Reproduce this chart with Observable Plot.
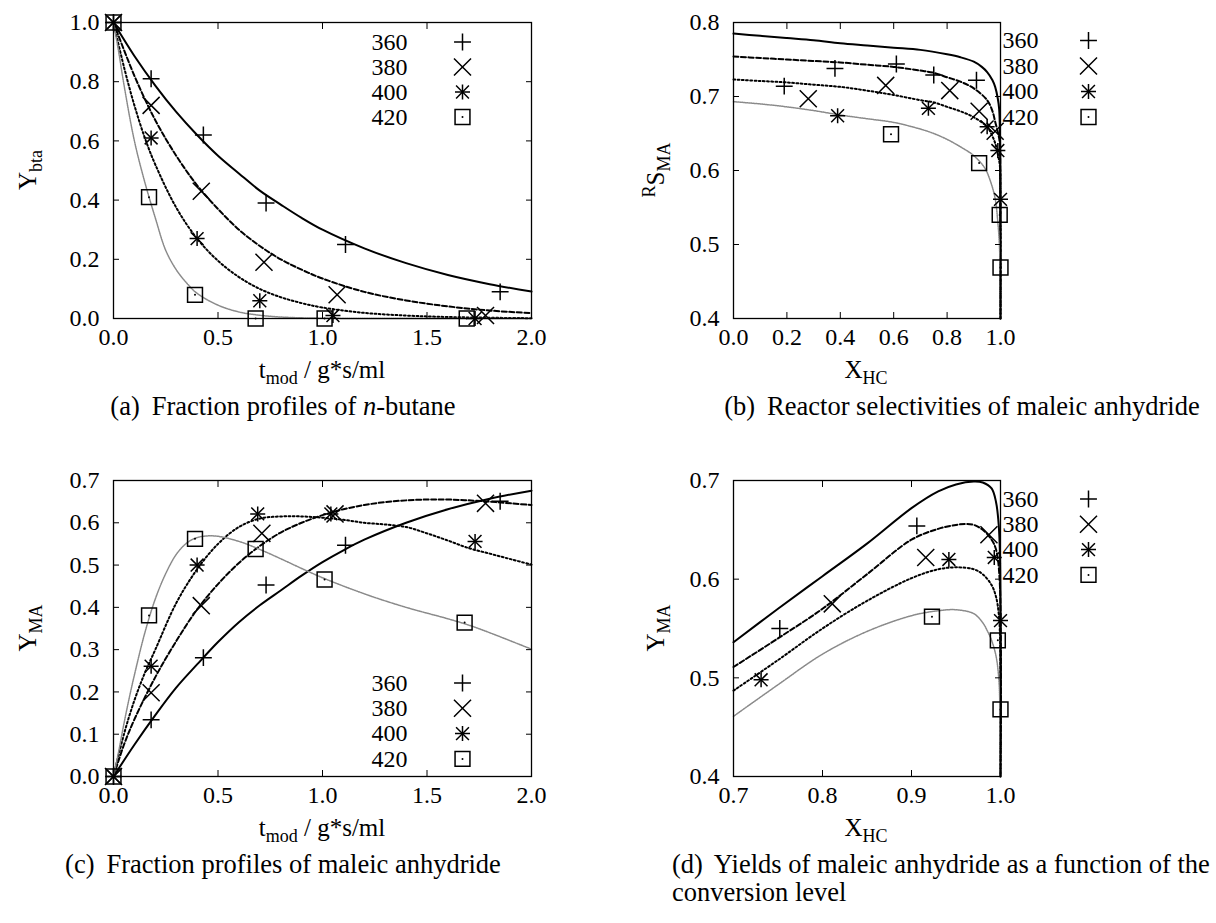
<!DOCTYPE html>
<html><head><meta charset="utf-8">
<script src="https://cdn.jsdelivr.net/npm/d3@7"></script>
<script src="https://cdn.jsdelivr.net/npm/@observablehq/plot@0.6"></script>
<style>
body{margin:0;background:#fff;}
#root{position:relative;width:1216px;height:923px;overflow:hidden;font-family:"Liberation Serif",Tinos,"Times New Roman",Times,"DejaVu Serif",serif;color:#000;}
.panel{position:absolute;}
.lbl{position:absolute;font-size:25px;white-space:nowrap;line-height:1;transform:translate(-50%,-50%);}
.lbl.rot{transform:translate(-50%,-50%) rotate(-90deg);}
.lbl sub{font-size:18px;vertical-align:-6px;line-height:0;}
.lbl sup{font-size:18px;vertical-align:9px;line-height:0;}
.cap{position:absolute;font-size:26.5px;white-space:nowrap;line-height:1;}
</style></head><body><div id="root"></div>
<script>
// ---------- data ----------
const temps = ["360", "380", "400", "420"];

// (a) n-butane fraction Y_bta vs t_mod
const a_pts_360 = [[0,1.0],[0.18,0.81],[0.43,0.62],[0.73,0.39],[1.11,0.25],[1.85,0.09]];
const a_pts_380 = [[0,1.0],[0.18,0.72],[0.42,0.43],[0.72,0.19],[1.07,0.08],[1.78,0.01]];
const a_pts_400 = [[0,1.0],[0.18,0.61],[0.40,0.27],[0.70,0.06],[1.05,0.01],[1.73,0.0]];
const a_pts_420 = [[0,1.0],[0.17,0.41],[0.39,0.08],[0.68,0.0],[1.01,0.0],[1.69,0.0]];
const a_fit_360 = [[0,1],[0.1,0.887],[0.2,0.787],[0.3,0.698],[0.4,0.62],[0.5,0.55],[0.6,0.49],[0.7,0.432],[0.8,0.385],[0.9,0.34],[1.0,0.30],[1.2,0.237],[1.4,0.187],[1.6,0.147],[1.8,0.116],[2.0,0.091]];
const a_fit_380 = [[0,1],[0.1,0.82],[0.2,0.67],[0.3,0.55],[0.4,0.45],[0.5,0.37],[0.6,0.30],[0.7,0.245],[0.8,0.20],[0.9,0.165],[1.0,0.135],[1.2,0.09],[1.4,0.061],[1.6,0.041],[1.8,0.027],[2.0,0.018]];
const a_fit_400 = [[0,1],[0.05,0.85],[0.1,0.72],[0.15,0.61],[0.2,0.52],[0.3,0.375],[0.4,0.27],[0.5,0.195],[0.6,0.14],[0.7,0.10],[0.8,0.072],[0.9,0.052],[1.0,0.037],[1.2,0.019],[1.4,0.01],[1.6,0.005],[2.0,0.001]];
const a_fit_420 = [[0,1],[0.025,0.9],[0.05,0.79],[0.1,0.60],[0.15,0.46],[0.2,0.34],[0.25,0.23],[0.3,0.165],[0.35,0.12],[0.4,0.085],[0.5,0.045],[0.6,0.022],[0.7,0.011],[0.8,0.005],[1.0,0.001],[2.0,0]];

// (b) reactor selectivity RS_MA vs X_HC
const b_pts_360 = [[0.19,0.714],[0.38,0.738],[0.61,0.744],[0.75,0.729],[0.91,0.722]];
const b_pts_380 = [[0.28,0.697],[0.57,0.715],[0.81,0.708],[0.92,0.680],[0.98,0.653]];
const b_pts_400 = [[0.39,0.674],[0.73,0.684],[0.95,0.659],[0.99,0.627],[1.0,0.561]];
const b_pts_420 = [[0.59,0.649],[0.92,0.610],[0.997,0.540],[1.0,0.469]];
const b_fit_360 = [[0,0.785],[0.1,0.782],[0.2,0.779],[0.3,0.776],[0.4,0.772],[0.5,0.769],[0.6,0.766],[0.7,0.763],[0.8,0.757],[0.85,0.753],[0.9,0.747],[0.93,0.740],[0.95,0.733],[0.97,0.722],[0.98,0.713],[0.99,0.697],[0.995,0.683],[0.998,0.65],[0.9995,0.58],[1.0,0.4]];
const b_fit_380 = [[0,0.754],[0.1,0.752],[0.2,0.750],[0.3,0.748],[0.4,0.746],[0.5,0.743],[0.6,0.740],[0.7,0.735],[0.75,0.732],[0.8,0.726],[0.85,0.720],[0.9,0.711],[0.95,0.695],[0.97,0.680],[0.98,0.666],[0.99,0.652],[0.997,0.638],[0.999,0.60],[1.0,0.4]];
const b_fit_400 = [[0,0.723],[0.1,0.721],[0.2,0.719],[0.3,0.716],[0.4,0.713],[0.5,0.708],[0.6,0.702],[0.7,0.695],[0.75,0.692],[0.8,0.686],[0.85,0.680],[0.9,0.672],[0.95,0.659],[0.97,0.646],[0.98,0.637],[0.99,0.622],[0.998,0.605],[0.9995,0.56],[1.0,0.4]];
const b_fit_420 = [[0,0.693],[0.1,0.690],[0.2,0.686],[0.3,0.681],[0.4,0.675],[0.5,0.670],[0.6,0.665],[0.7,0.656],[0.75,0.650],[0.8,0.642],[0.85,0.632],[0.9,0.620],[0.94,0.604],[0.96,0.588],[0.98,0.562],[0.99,0.530],[0.995,0.505],[0.9985,0.47],[1.0,0.4]];

// (c) maleic anhydride fraction Y_MA vs t_mod
const c_pts_360 = [[0,0],[0.18,0.134],[0.43,0.281],[0.73,0.453],[1.11,0.547],[1.85,0.651]];
const c_pts_380 = [[0,0],[0.18,0.198],[0.42,0.404],[0.71,0.575],[1.06,0.621],[1.78,0.646]];
const c_pts_400 = [[0,0],[0.18,0.261],[0.40,0.50],[0.69,0.621],[1.04,0.621],[1.73,0.556]];
const c_pts_420 = [[0,0],[0.17,0.381],[0.39,0.562],[0.68,0.538],[1.01,0.466],[1.68,0.364]];
const c_fit_360 = [[0,0],[0.1,0.075],[0.2,0.145],[0.3,0.21],[0.4,0.265],[0.5,0.318],[0.6,0.365],[0.7,0.405],[0.8,0.44],[0.9,0.475],[1.0,0.507],[1.1,0.535],[1.2,0.56],[1.4,0.60],[1.6,0.632],[1.8,0.657],[2.0,0.676]];
const c_fit_380 = [[0,0],[0.05,0.075],[0.1,0.135],[0.2,0.235],[0.3,0.32],[0.4,0.395],[0.5,0.455],[0.6,0.505],[0.7,0.545],[0.8,0.577],[0.9,0.600],[1.0,0.618],[1.1,0.632],[1.2,0.642],[1.3,0.649],[1.4,0.653],[1.5,0.655],[1.6,0.655],[1.7,0.653],[1.8,0.65],[1.9,0.646],[2.0,0.642]];
const c_fit_400 = [[0,0],[0.05,0.10],[0.1,0.18],[0.15,0.245],[0.2,0.30],[0.3,0.41],[0.4,0.49],[0.5,0.55],[0.6,0.59],[0.7,0.61],[0.8,0.615],[0.9,0.615],[1.0,0.612],[1.1,0.607],[1.2,0.600],[1.3,0.596],[1.4,0.590],[1.5,0.575],[1.6,0.558],[1.7,0.540],[1.8,0.527],[1.9,0.514],[2.0,0.501]];
const c_fit_420 = [[0,0],[0.025,0.06],[0.05,0.125],[0.075,0.185],[0.1,0.24],[0.15,0.34],[0.2,0.42],[0.25,0.48],[0.3,0.525],[0.35,0.552],[0.4,0.565],[0.45,0.569],[0.5,0.568],[0.6,0.556],[0.7,0.537],[0.8,0.515],[0.9,0.492],[1.0,0.470],[1.2,0.432],[1.4,0.400],[1.6,0.373],[1.7,0.358],[1.8,0.34],[2.0,0.301]];

// (d) yield Y_MA vs X_HC
const d_pts_360 = [[0.752,0.55],[0.906,0.654]];
const d_pts_380 = [[0.811,0.575],[0.916,0.622],[0.987,0.645]];
const d_pts_400 = [[0.731,0.498],[0.942,0.62],[0.993,0.622],[1.0,0.558]];
const d_pts_420 = [[0.923,0.562],[0.997,0.538],[1.0,0.468]];
const d_fit_360 = [[0.7,0.536],[0.75,0.57],[0.8,0.603],[0.85,0.636],[0.9,0.672],[0.93,0.689],[0.95,0.696],[0.97,0.699],[0.98,0.698],[0.99,0.692],[0.995,0.678],[0.998,0.655],[0.9995,0.62],[1.0,0.4]];
const d_fit_380 = [[0.7,0.511],[0.75,0.54],[0.8,0.57],[0.85,0.605],[0.9,0.640],[0.93,0.651],[0.95,0.655],[0.96,0.656],[0.97,0.655],[0.98,0.65],[0.99,0.64],[0.995,0.63],[0.999,0.60],[1.0,0.4]];
const d_fit_400 = [[0.7,0.487],[0.75,0.518],[0.8,0.55],[0.85,0.578],[0.9,0.601],[0.93,0.610],[0.95,0.612],[0.97,0.610],[0.98,0.605],[0.99,0.594],[0.995,0.582],[0.998,0.565],[0.9995,0.54],[1.0,0.4]];
const d_fit_420 = [[0.7,0.461],[0.75,0.493],[0.8,0.524],[0.85,0.547],[0.9,0.563],[0.93,0.568],[0.95,0.569],[0.97,0.565],[0.98,0.556],[0.985,0.548],[0.99,0.538],[0.995,0.522],[0.998,0.50],[0.9993,0.47],[1.0,0.4]];

// axis ticks
const tTicks = [0, 0.5, 1.0, 1.5, 2.0];
const ybtaTicks = [0, 0.2, 0.4, 0.6, 0.8, 1.0];
const xhcTicksB = [0, 0.2, 0.4, 0.6, 0.8, 1.0];
const sTicks = [0.4, 0.5, 0.6, 0.7, 0.8];
const ymaTicksC = [0, 0.1, 0.2, 0.3, 0.4, 0.5, 0.6, 0.7];
const xhcTicksD = [0.7, 0.8, 0.9, 1.0];
const ymaTicksD = [0.4, 0.5, 0.6, 0.7];

// ---------- styles ----------
const FONT = '"Liberation Serif", Tinos, "Times New Roman", Times, "DejaVu Serif", serif';
const seriesStyle = {
  "360": {stroke: "#000", strokeWidth: 2, dash: null, glyphs: [["plus", 5.5]]},
  "380": {stroke: "#000", strokeWidth: 2, dash: "5,2.5", glyphs: [["times", 7.8]]},
  "400": {stroke: "#000", strokeWidth: 2, dash: "1.8,2.4", glyphs: [["plus", 4.9], ["times", 5.9]]},
  "420": {stroke: "#8a8a8a", strokeWidth: 1.5, dash: "1.2,1", glyphs: [["square", 8.4]], centerDot: true}
};

const toRows = (arr) => arr.map(([x, y]) => ({x, y}));
const fmt1 = d3.format(".1f");

function glyphMarks(data, chan, s) {
  const out = s.glyphs.map(([sym, r]) => Plot.dot(data, {...chan, symbol: sym, r, stroke: "#000", strokeWidth: 1.5, fill: "none"}));
  if (s.centerDot) out.push(Plot.dot(data, {...chan, r: 1, fill: "#000", stroke: null}));
  return out;
}

function makePanel(o) {
  const marks = [];
  temps.forEach((t, i) => {
    const s = seriesStyle[t];
    marks.push(Plot.line(toRows(o.fits[i]), {x: "x", y: "y", stroke: s.stroke, strokeWidth: s.strokeWidth, strokeDasharray: s.dash, curve: "catmull-rom"}));
  });
  temps.forEach((t, i) => {
    marks.push(...glyphMarks(toRows(o.pts[i]), {x: "x", y: "y"}, seriesStyle[t]));
  });
  temps.forEach((t, i) => {
    const dy = o.legend.dy0 + i * o.legend.step;
    marks.push(Plot.text([t], {text: d => d, frameAnchor: o.legend.anchor, lineAnchor: "middle", textAnchor: "end", dx: o.legend.textDx, dy, fontSize: 24}));
    marks.push(...glyphMarks([t], {frameAnchor: o.legend.anchor, dx: o.legend.symDx, dy}, seriesStyle[t]));
  });
  marks.push(
    Plot.axisX(o.xTicks, {anchor: "bottom", tickSize: -6, fill: "none", label: null}),
    Plot.axisX(o.xTicks, {anchor: "top", tickSize: -6, fill: "none", label: null}),
    Plot.axisY(o.yTicks, {anchor: "left", tickSize: -6, fill: "none", label: null}),
    Plot.axisY(o.yTicks, {anchor: "right", tickSize: -6, fill: "none", label: null}),
    Plot.axisX(o.xTicks, {anchor: "bottom", tickSize: 0, tickPadding: 9, tickFormat: fmt1, label: null}),
    Plot.axisY(o.yTicks, {anchor: "left", tickSize: 0, tickPadding: 14, tickFormat: fmt1, label: null}),
    Plot.frame({stroke: "#000", strokeWidth: 1.3})
  );
  const svg = Plot.plot({
    width: 608, height: 458,
    marginLeft: o.ml, marginRight: o.mr, marginTop: 22, marginBottom: 140,
    x: {domain: o.xDomain, axis: null},
    y: {domain: o.yDomain, axis: null},
    style: {fontFamily: FONT, fontSize: "24px", background: "transparent", overflow: "visible", color: "#000"},
    marks
  });
  svg.classList.add("panel");
  svg.style.left = o.left + "px";
  svg.style.top = o.top + "px";
  return svg;
}

const root = document.getElementById("root");

root.appendChild(makePanel({
  left: 0, top: 0, ml: 113, mr: 77,
  xDomain: [0, 2], yDomain: [0, 1], xTicks: tTicks, yTicks: ybtaTicks,
  fits: [a_fit_360, a_fit_380, a_fit_400, a_fit_420],
  pts: [a_pts_360, a_pts_380, a_pts_400, a_pts_420],
  legend: {anchor: "top-right", textDx: -124, symDx: -69, dy0: 19.5, step: 25}
}));
root.appendChild(makePanel({
  left: 608, top: 0, ml: 125, mr: 216,
  xDomain: [0, 1], yDomain: [0.4, 0.8], xTicks: xhcTicksB, yTicks: sTicks,
  fits: [b_fit_360, b_fit_380, b_fit_400, b_fit_420],
  pts: [b_pts_360, b_pts_380, b_pts_400, b_pts_420],
  legend: {anchor: "top-right", textDx: 38, symDx: 88, dy0: 18, step: 25.5}
}));
root.appendChild(makePanel({
  left: 0, top: 458, ml: 113, mr: 77,
  xDomain: [0, 2], yDomain: [0, 0.7], xTicks: tTicks, yTicks: ymaTicksC,
  fits: [c_fit_360, c_fit_380, c_fit_400, c_fit_420],
  pts: [c_pts_360, c_pts_380, c_pts_400, c_pts_420],
  legend: {anchor: "bottom-right", textDx: -124, symDx: -69, dy0: -93.5, step: 25.3}
}));
root.appendChild(makePanel({
  left: 608, top: 458, ml: 125, mr: 216,
  xDomain: [0.7, 1.0], yDomain: [0.4, 0.7], xTicks: xhcTicksD, yTicks: ymaTicksD,
  fits: [d_fit_360, d_fit_380, d_fit_400, d_fit_420],
  pts: [d_pts_360, d_pts_380, d_pts_400, d_pts_420],
  legend: {anchor: "top-right", textDx: 38, symDx: 88, dy0: 18.5, step: 25.3}
}));

function addHTML(cls, html, left, top) {
  const d = document.createElement("div");
  d.className = cls;
  d.innerHTML = html;
  d.style.left = left + "px";
  d.style.top = top + "px";
  root.appendChild(d);
  return d;
}
addHTML("lbl", "t<sub>mod</sub> / g*s/ml", 322, 369);
addHTML("lbl", "X<sub>HC</sub>", 866, 369);
addHTML("lbl", "t<sub>mod</sub> / g*s/ml", 322, 827);
addHTML("lbl", "X<sub>HC</sub>", 866, 827);
addHTML("lbl rot", "Y<sub>bta</sub>", 27, 170);
addHTML("lbl rot", "<sup>R</sup>S<sub>MA</sub>", 655, 170);
addHTML("lbl rot", "Y<sub>MA</sub>", 27, 628);
addHTML("lbl rot", "Y<sub>MA</sub>", 655, 628);

const capA = addHTML("cap", "(a)&thinsp; Fraction profiles of <i>n</i>-butane", 283, 406);
const capB = addHTML("cap", "(b)&thinsp; Reactor selectivities of maleic anhydride", 962, 406);
const capC = addHTML("cap", "(c)&thinsp; Fraction profiles of maleic anhydride", 283, 864);
[capA, capB, capC].forEach(c => c.style.transform = "translate(-50%,-50%)");
const capD = addHTML("cap", "(d)&thinsp; Yields of maleic anhydride as a function of the<br>conversion level", 672, 850);
capD.style.lineHeight = "28px";
</script>
</body></html>
